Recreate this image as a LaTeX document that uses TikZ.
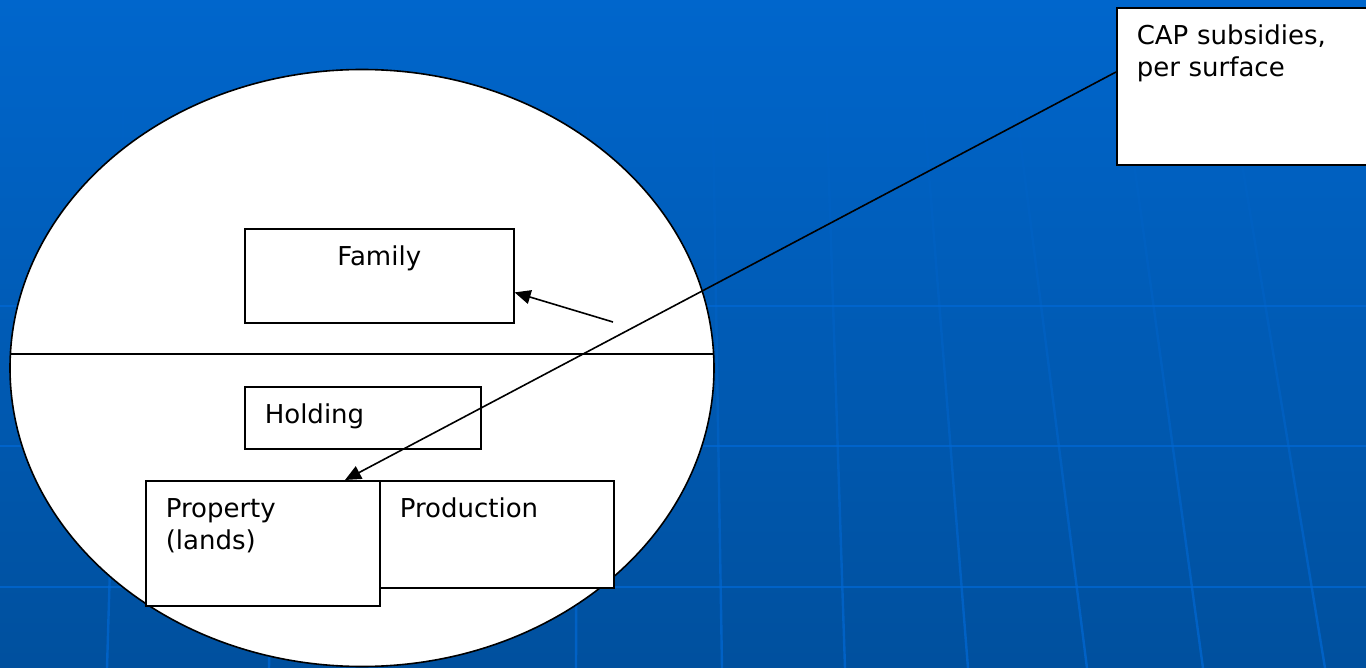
\documentclass[tikz,border=0pt]{standalone}
\usepackage{fontspec}
\setmainfont{DejaVu Sans}
\usetikzlibrary{arrows.meta,shapes.geometric,calc,fadings}

\definecolor{bgtop}{RGB}{0,102,204}
\definecolor{bgbottom}{RGB}{0,80,158}
\definecolor{gridblue}{RGB}{0,104,212}

\begin{document}
\begin{tikzpicture}[x=0.5pt,y=-0.5pt,>={Triangle[length=8pt,width=7pt]},thick,
  box/.style={draw,fill=white,anchor=north west,align=left,inner xsep=10pt,
    inner ysep=8.5pt,text height=10pt,font=\fontsize{13pt}{16pt}\selectfont},
  gridline/.style={gridblue,line width=1.2pt,opacity=0.75}]

  \useasboundingbox (0,0) rectangle (1366,668);
  \clip (0,0) rectangle (1366,668);
  \shade[top color=bgtop,bottom color=bgbottom] (0,0) rectangle (1366,668);

  % faint grid of the slide
  \foreach \y in {306,446,587}
    \draw[gridline] (0,\y) -- (1366,\y);
  \foreach \xt/\xb in {125/107,280/269,578/576,712/722,825/845,920/968,1010/1087,1120/1203,1225/1325}
    \draw[gridline,path fading=north] (\xt,60) -- (\xb,668);

  \node[draw,ellipse,fill=white,minimum width=352pt,minimum height=298.5pt,inner sep=0pt] (farm) at (362,368) {};
  \draw ($(farm.center)+(-351.6,-14)$) -- ($(farm.center)+(351.6,-14)$);

  \node[box,text width=97pt,text depth=26.5pt] (prod) at (379,480) {Production};
  \node[box,text width=97pt,text depth=35.5pt] (prop) at (145,480) {Property\\(lands)};
  \node[box,text width=98pt,text depth=4pt] (hold) at (244,386) {Holding};
  \node[box,align=center,text width=114.5pt,text depth=20pt] (fam) at (244,228) {Family};
  \node[box,text width=112pt,text depth=51.5pt] (cap) at (1116,7) {CAP subsidies,\\per surface};

  \coordinate (famtail) at (613,322);
  \draw[->] (famtail) -- (fam.-7.2);
  \draw[->] ($(cap.north west)+(0,65)$) -- ($(prop.north west)+(200,0)$);
\end{tikzpicture}
\end{document}
